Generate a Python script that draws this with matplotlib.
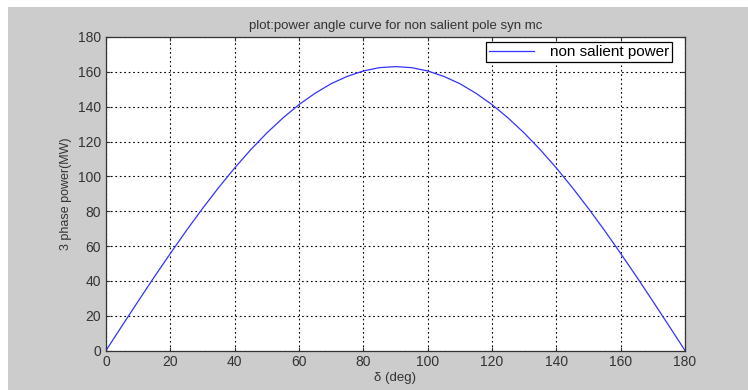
import matplotlib.pyplot as plt
import matplotlib.patches as patches

plt.rcParams['font.family'] = ['Liberation Sans', 'DejaVu Sans']

# load angle (deg) and 3 phase power (MW)
delta = [0, 5, 10, 15, 20, 25, 30, 35, 40, 45, 50, 55, 60, 65, 70, 75, 80, 85, 90,
         95, 100, 105, 110, 115, 120, 125, 130, 135, 140, 145, 150, 155, 160, 165,
         170, 175, 180]
power = [0, 14.2, 28.3, 42.2, 55.7, 68.9, 81.5, 93.5, 104.8, 115.3, 124.9, 133.5,
         141.2, 147.7, 153.2, 157.4, 160.5, 162.4, 163.0, 162.4, 160.5, 157.4, 153.2,
         147.7, 141.2, 133.5, 124.9, 115.3, 104.8, 93.5, 81.5, 68.9, 55.7, 42.2, 28.3,
         14.2, 0]

xticks = list(range(0, 181, 20))
yticks = list(range(0, 181, 20))

fig = plt.figure(figsize=(7.48, 3.90), dpi=100)
fig.patch.set_facecolor('white')
fig.patches.append(patches.Rectangle((8 / 748, 0), 1, 1 - 7 / 390,
                                     transform=fig.transFigure, facecolor='#cccccc',
                                     edgecolor='none', zorder=-10))

ax = fig.add_axes([106 / 748, 1 - 350.5 / 390, 579 / 748, 313.5 / 390])
ax.set_facecolor('white')
ax.plot(delta, power, color='#3333ff', lw=0.9, label='non salient power')

ax.set_xlim(0, 180)
ax.set_ylim(0, 180)
ax.set_xticks(xticks)
ax.set_yticks(yticks)
ax.grid(True, color='black', linestyle=(0, (1.5, 2.5)), lw=0.8)
ax.tick_params(direction='in', length=3, labelsize=10, colors='#333333',
               top=True, right=True)
for s in ax.spines.values():
    s.set_color('#333333')
    s.set_linewidth(0.9)

ax.set_title('plot:power angle curve for non salient pole syn mc', fontsize=9.5,
             color='#333333', pad=6)
ax.set_xlabel('δ (deg)', fontsize=9.5, color='#333333', labelpad=2)
ax.set_ylabel('3 phase power(MW)', fontsize=9, color='#333333', labelpad=4)

leg = ax.legend(loc='upper right', bbox_to_anchor=(0.9775, 0.984), fontsize=11,
                fancybox=False, framealpha=1, edgecolor='black', handlelength=3.0,
                handletextpad=1.0, borderaxespad=0, borderpad=0.2)
leg.get_frame().set_linewidth(0.9)

fig.savefig('out.png', dpi=100)
